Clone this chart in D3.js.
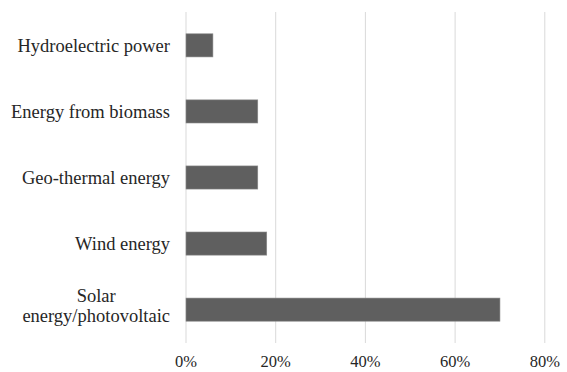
<!DOCTYPE html>
<html>
<head>
<meta charset="utf-8">
<script src="https://cdn.jsdelivr.net/npm/d3@7"></script>
<style>
  body { margin: 0; background: #fff; }
</style>
</head>
<body>
<div class="chart"></div>
<script>
const categories = ["Hydroelectric power", "Energy from biomass", "Geo-thermal energy", "Wind energy", "Solar energy/photovoltaic"];
const shares = [0.06, 0.16, 0.16, 0.18, 0.70];
const ticks = [0, 0.2, 0.4, 0.6, 0.8];

const width = 567, height = 372;
const margin = {top: 12, right: 22, bottom: 29, left: 186};
const serif = "'Liberation Serif', 'Times New Roman', Times, serif";

const svg = d3.select(".chart").append("svg")
    .attr("width", width)
    .attr("height", height)
    .attr("font-family", serif);

const x = d3.scaleLinear()
    .domain([0, 0.8])
    .range([margin.left, margin.left + 4 * 89.7]);

const y = d3.scaleBand()
    .domain(categories)
    .range([margin.top, height - margin.bottom])
    .paddingInner(0.65)
    .paddingOuter(0.33);

// gridlines
svg.append("g")
    .selectAll("line")
    .data(ticks)
    .join("line")
    .attr("x1", d => x(d)).attr("x2", d => x(d))
    .attr("y1", margin.top).attr("y2", height - margin.bottom)
    .attr("stroke", "#d9d9d9")
    .attr("stroke-width", 1);

// bars
svg.append("g")
    .selectAll("rect")
    .data(categories)
    .join("rect")
    .attr("x", x(0))
    .attr("y", d => y(d))
    .attr("width", (d, i) => x(shares[i]) - x(0))
    .attr("height", y.bandwidth())
    .attr("fill", "#5f5f5f")
    .attr("stroke", "#8a8a8a")
    .attr("stroke-width", 0.6);

// x tick labels
svg.append("g")
    .selectAll("text")
    .data(ticks)
    .join("text")
    .attr("x", d => x(d))
    .attr("y", 367)
    .attr("text-anchor", "middle")
    .attr("font-family", serif)
    .attr("font-size", 16.5)
    .attr("fill", "#262626")
    .text(d3.format(".0%"));

// category labels, the solar one wraps onto two lines
const labelRight = 170;
const lineSplit = {"Solar energy/photovoltaic": ["Solar", "energy/photovoltaic"]};

const labels = svg.append("g")
    .selectAll("text")
    .data(categories)
    .join("text")
    .attr("font-family", serif)
    .attr("font-size", 18.5)
    .attr("fill", "#262626");

labels.each(function(d) {
    const lines = lineSplit[d] || [d];
    const n = lines.length;
    const cy = y(d) + y.bandwidth() / 2;
    const lh = 20;
    // one text per line so the lines stay separate boxes
    const g = d3.select(this.parentNode);
    const spans = lines.map((ln, i) => g.append("text")
        .attr("font-family", serif)
        .attr("font-size", 18.5)
        .attr("fill", "#262626")
        .attr("y", cy + 6.5 + (i - (n - 1) / 2) * lh - (n - 1) * 4)
        .text(ln).node());
    const w = d3.max(spans, s => s.getComputedTextLength());
    spans.forEach(s => {
        d3.select(s)
            .attr("x", labelRight - w / 2)
            .attr("text-anchor", "middle");
    });
    d3.select(this).remove();
});
</script>
</body>
</html>
